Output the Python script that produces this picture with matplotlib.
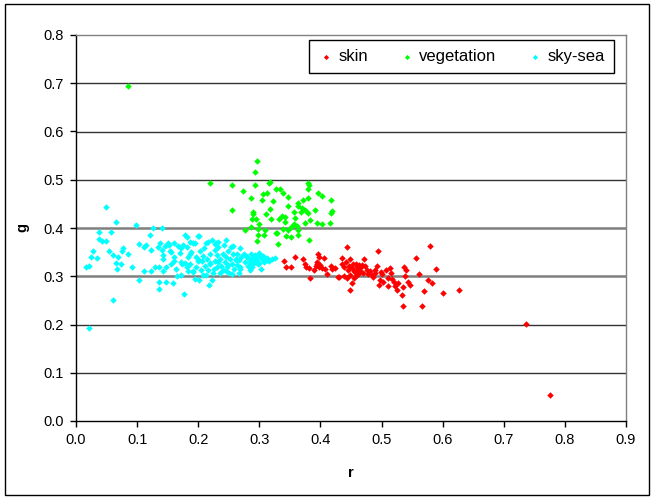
import numpy as np
import matplotlib
matplotlib.use("Agg")
import matplotlib.pyplot as plt
from matplotlib.patches import Rectangle

# ==============================
# 1. Data (r, g)
# ==============================

skin_r = [0.340, 0.344, 0.352, 0.359, 0.371, 0.374, 0.376, 0.381, 0.383, 0.389,
          0.392, 0.394, 0.396, 0.398, 0.398, 0.400, 0.406, 0.407, 0.411, 0.417,
          0.419, 0.423, 0.429, 0.435, 0.436, 0.438, 0.439, 0.441, 0.443, 0.445,
          0.447, 0.448, 0.449, 0.451, 0.449, 0.452, 0.454, 0.455, 0.457, 0.459,
          0.460, 0.461, 0.463, 0.465, 0.467, 0.470, 0.472, 0.473, 0.476, 0.478,
          0.481, 0.484, 0.486, 0.489, 0.493, 0.494, 0.495, 0.497, 0.499, 0.501,
          0.503, 0.508, 0.510, 0.511, 0.513, 0.515, 0.517, 0.520, 0.522, 0.525,
          0.527, 0.533, 0.535, 0.535, 0.537, 0.538, 0.540, 0.543, 0.547, 0.557,
          0.562, 0.567, 0.570, 0.576, 0.580, 0.582, 0.589, 0.601, 0.626, 0.736,
          0.776, 0.458, 0.468, 0.463, 0.489, 0.443, 0.431, 0.395, 0.402, 0.455]
skin_g = [0.331, 0.319, 0.319, 0.340, 0.336, 0.326, 0.319, 0.318, 0.297, 0.313,
          0.321, 0.326, 0.346, 0.340, 0.319, 0.323, 0.338, 0.314, 0.304, 0.321,
          0.314, 0.317, 0.299, 0.338, 0.326, 0.319, 0.300, 0.330, 0.360, 0.313,
          0.322, 0.302, 0.336, 0.285, 0.272, 0.317, 0.326, 0.297, 0.309, 0.319,
          0.302, 0.315, 0.323, 0.311, 0.319, 0.306, 0.335, 0.321, 0.313, 0.304,
          0.311, 0.302, 0.299, 0.313, 0.322, 0.353, 0.281, 0.292, 0.309, 0.304,
          0.288, 0.313, 0.279, 0.297, 0.317, 0.307, 0.294, 0.288, 0.279, 0.271,
          0.286, 0.261, 0.239, 0.277, 0.319, 0.300, 0.313, 0.288, 0.281, 0.338,
          0.304, 0.239, 0.270, 0.292, 0.362, 0.285, 0.316, 0.266, 0.272, 0.202,
          0.053, 0.326, 0.323, 0.306, 0.306, 0.297, 0.299, 0.330, 0.318, 0.310]

veg_r = [0.085, 0.296, 0.293, 0.220, 0.256, 0.293, 0.318, 0.315, 0.274, 0.327,
         0.333, 0.306, 0.312, 0.338, 0.347, 0.379, 0.381, 0.379, 0.396, 0.402,
         0.286, 0.305, 0.323, 0.379, 0.371, 0.418, 0.347, 0.364, 0.364, 0.256,
         0.289, 0.290, 0.318, 0.311, 0.319, 0.332, 0.342, 0.356, 0.368, 0.374,
         0.379, 0.391, 0.383, 0.375, 0.419, 0.418, 0.394, 0.403, 0.416, 0.288,
         0.294, 0.287, 0.276, 0.298, 0.310, 0.297, 0.308, 0.327, 0.339, 0.347,
         0.356, 0.361, 0.352, 0.343, 0.363, 0.364, 0.381, 0.296, 0.331, 0.342,
         0.351, 0.329, 0.300, 0.337, 0.358, 0.370]
veg_g = [0.694, 0.539, 0.517, 0.493, 0.490, 0.490, 0.496, 0.493, 0.477, 0.481,
         0.481, 0.471, 0.472, 0.472, 0.465, 0.494, 0.490, 0.481, 0.473, 0.466,
         0.462, 0.458, 0.456, 0.462, 0.459, 0.459, 0.446, 0.451, 0.446, 0.438,
         0.434, 0.429, 0.440, 0.428, 0.419, 0.419, 0.423, 0.434, 0.433, 0.437,
         0.432, 0.438, 0.416, 0.411, 0.436, 0.432, 0.410, 0.408, 0.410, 0.418,
         0.418, 0.402, 0.395, 0.398, 0.396, 0.386, 0.385, 0.390, 0.398, 0.396,
         0.408, 0.404, 0.381, 0.384, 0.385, 0.396, 0.376, 0.373, 0.366, 0.413,
         0.402, 0.389, 0.408, 0.425, 0.420, 0.442]

sky_r = [0.022, 0.017, 0.022, 0.025, 0.027, 0.035, 0.037, 0.037, 0.042, 0.049,
         0.049, 0.054, 0.058, 0.060, 0.061, 0.066, 0.066, 0.067, 0.068, 0.073,
         0.075, 0.077, 0.085, 0.091, 0.098, 0.103, 0.103, 0.112, 0.112, 0.115,
         0.121, 0.123, 0.126, 0.123, 0.129, 0.134, 0.135, 0.137, 0.135, 0.136,
         0.141, 0.142, 0.143, 0.142, 0.147, 0.152, 0.154, 0.156, 0.158, 0.160,
         0.161, 0.163, 0.166, 0.171, 0.173, 0.172, 0.176, 0.179, 0.181, 0.181,
         0.181, 0.184, 0.184, 0.187, 0.188, 0.191, 0.195, 0.195, 0.196, 0.197,
         0.200, 0.202, 0.203, 0.204, 0.206, 0.208, 0.210, 0.211, 0.212, 0.213,
         0.215, 0.216, 0.217, 0.219, 0.220, 0.222, 0.224, 0.225, 0.227, 0.228,
         0.230, 0.231, 0.233, 0.235, 0.236, 0.238, 0.240, 0.241, 0.242, 0.244,
         0.245, 0.247, 0.249, 0.250, 0.252, 0.253, 0.255, 0.257, 0.259, 0.261,
         0.263, 0.264, 0.266, 0.267, 0.269, 0.270, 0.256, 0.269, 0.275, 0.276,
         0.279, 0.282, 0.285, 0.287, 0.288, 0.289, 0.291, 0.293, 0.295, 0.298,
         0.300, 0.302, 0.305, 0.308, 0.312, 0.316, 0.320, 0.325, 0.290, 0.297,
         0.303, 0.284, 0.299, 0.306, 0.228, 0.200, 0.232, 0.246, 0.186, 0.170,
         0.140, 0.151, 0.145, 0.167, 0.175, 0.191, 0.201, 0.216, 0.229, 0.245,
         0.257, 0.268, 0.156, 0.160, 0.172, 0.186, 0.202, 0.219, 0.232, 0.249,
         0.262, 0.279, 0.208, 0.222, 0.191, 0.178, 0.148, 0.284, 0.301, 0.312]
sky_g = [0.192, 0.319, 0.322, 0.340, 0.353, 0.337, 0.391, 0.378, 0.373, 0.444,
         0.373, 0.353, 0.391, 0.344, 0.251, 0.413, 0.328, 0.315, 0.339, 0.325,
         0.352, 0.358, 0.347, 0.319, 0.406, 0.366, 0.292, 0.360, 0.311, 0.364,
         0.385, 0.354, 0.400, 0.311, 0.319, 0.361, 0.288, 0.369, 0.319, 0.273,
         0.354, 0.344, 0.336, 0.311, 0.288, 0.364, 0.353, 0.326, 0.285, 0.331,
         0.368, 0.315, 0.301, 0.358, 0.326, 0.303, 0.263, 0.385, 0.381, 0.361,
         0.319, 0.340, 0.311, 0.326, 0.350, 0.311, 0.368, 0.294, 0.340, 0.319,
         0.331, 0.292, 0.353, 0.313, 0.331, 0.342, 0.358, 0.322, 0.303, 0.368,
         0.335, 0.313, 0.281, 0.347, 0.326, 0.375, 0.306, 0.315, 0.354, 0.331,
         0.344, 0.319, 0.360, 0.307, 0.336, 0.322, 0.347, 0.313, 0.364, 0.330,
         0.340, 0.319, 0.353, 0.306, 0.335, 0.360, 0.326, 0.347, 0.315, 0.336,
         0.323, 0.346, 0.306, 0.333, 0.320, 0.340, 0.304, 0.314, 0.347, 0.330,
         0.340, 0.322, 0.333, 0.346, 0.319, 0.336, 0.327, 0.345, 0.333, 0.340,
         0.328, 0.343, 0.336, 0.330, 0.338, 0.332, 0.335, 0.337, 0.339, 0.325,
         0.316, 0.327, 0.348, 0.341, 0.366, 0.383, 0.370, 0.310, 0.372, 0.349,
         0.400, 0.368, 0.362, 0.362, 0.364, 0.369, 0.383, 0.371, 0.368, 0.375,
         0.362, 0.358, 0.351, 0.340, 0.330, 0.347, 0.333, 0.327, 0.330, 0.323,
         0.333, 0.340, 0.302, 0.292, 0.309, 0.327, 0.320, 0.313, 0.344, 0.333]

# ==============================
# 2. Style
# ==============================

plt.rcParams["font.family"] = ["Liberation Sans", "DejaVu Sans"]
plt.rcParams["font.size"] = 10.5

COL_SKIN = "#FF0000"
COL_VEG = "#00FF00"
COL_SKY = "#00FFFF"

fig = plt.figure(figsize=(6.54, 4.99), dpi=100)
ax = fig.add_axes([76 / 654, 1 - 421 / 499, 550 / 654, 386 / 499])

# outer chart border
fig.patches.append(Rectangle((5 / 654, 4 / 499), 644 / 654, 491 / 499,
                             transform=fig.transFigure, fill=False,
                             edgecolor="black", linewidth=1.0))

# ==============================
# 3. Grid and points
# ==============================

for yv in np.arange(0.1, 0.75, 0.1):
    if abs(yv - 0.3) < 1e-6 or abs(yv - 0.4) < 1e-6:
        ax.axhline(yv, color="#7f7f7f", linewidth=1.8, zorder=1)
    else:
        ax.axhline(yv, color="#333333", linewidth=1.0, zorder=1)

ax.scatter(skin_r, skin_g, s=11, marker="D", color=COL_SKIN, linewidths=0, label="skin", zorder=3)
ax.scatter(veg_r, veg_g, s=11, marker="D", color=COL_VEG, linewidths=0, label="vegetation", zorder=3)
ax.scatter(sky_r, sky_g, s=11, marker="D", color=COL_SKY, linewidths=0, label="sky-sea", zorder=3)

ax.set_xlim(0, 0.9)
ax.set_ylim(0, 0.8)
ax.set_xticks(np.arange(0, 0.91, 0.1))
ax.set_yticks(np.arange(0, 0.81, 0.1))
ax.xaxis.set_major_formatter(matplotlib.ticker.FormatStrFormatter("%.1f"))
ax.yaxis.set_major_formatter(matplotlib.ticker.FormatStrFormatter("%.1f"))
ax.tick_params(direction="out", length=4, width=1, labelsize=10.5, pad=5)

for side in ["top", "right"]:
    ax.spines[side].set_color("#808080")
    ax.spines[side].set_linewidth(1.0)
for side in ["left", "bottom"]:
    ax.spines[side].set_color("black")
    ax.spines[side].set_linewidth(1.0)

ax.set_xlabel("r", fontweight="bold", fontsize=10.5, labelpad=13)
ax.set_ylabel("g", fontweight="bold", fontsize=10.5, labelpad=10)

legend = ax.legend(loc="upper right", bbox_to_anchor=(0.978, 0.987), ncol=3,
                   frameon=True, fancybox=False, framealpha=1, edgecolor="black",
                   handlelength=1.0, handletextpad=0.25, columnspacing=1.8,
                   borderpad=0.55, borderaxespad=0, markerscale=0.8, fontsize=12)
legend.get_frame().set_linewidth(1.0)

fig.savefig("out.png", dpi=100)
plt.close(fig)
